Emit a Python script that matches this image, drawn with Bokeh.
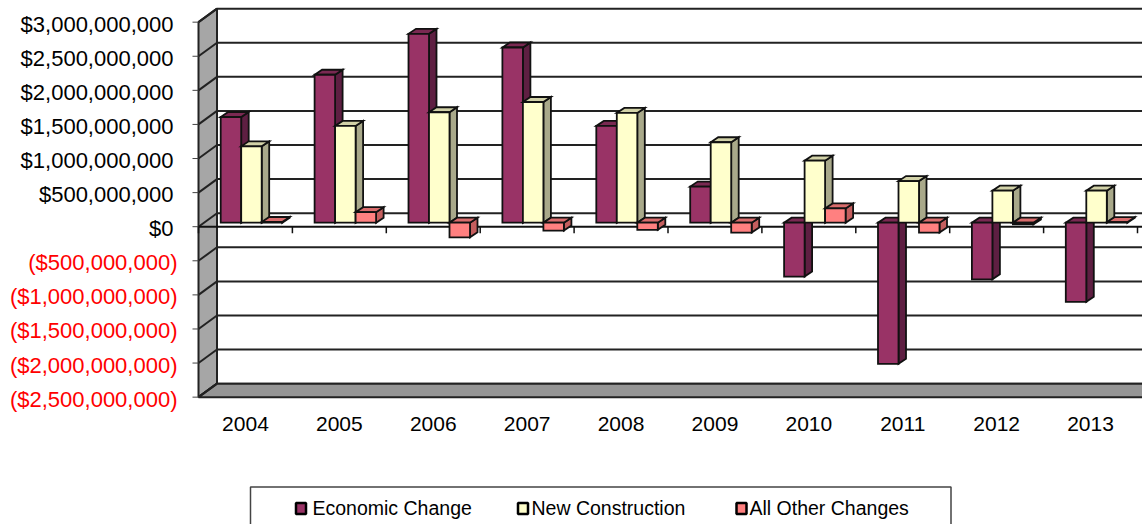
from bokeh.plotting import figure
from bokeh.models import Range1d, ColumnDataSource
from bokeh.core.properties import value
from bokeh.embed import file_html
from bokeh.resources import INLINE

# ---------------- data ----------------
years = ["2004", "2005", "2006", "2007", "2008", "2009", "2010", "2011", "2012", "2013"]
economic_change = [1.55e9, 2.17e9, 2.77e9, 2.57e9, 1.42e9, 0.53e9, -0.79e9, -2.07e9, -0.83e9, -1.16e9]
new_construction = [1.12e9, 1.42e9, 1.62e9, 1.77e9, 1.61e9, 1.18e9, 0.91e9, 0.61e9, 0.47e9, 0.47e9]
all_other_changes = [0.01e9, 0.155e9, -0.215e9, -0.115e9, -0.105e9, -0.145e9, 0.21e9, -0.145e9, -0.025e9, 0.008e9]
series_names = ["Economic Change", "New Construction", "All Other Changes"]
tick_values = [3.0e9, 2.5e9, 2.0e9, 1.5e9, 1.0e9, 0.5e9, 0.0, -0.5e9, -1.0e9, -1.5e9, -2.0e9, -2.5e9]
tick_labels = ["$3,000,000,000", "$2,500,000,000", "$2,000,000,000", "$1,500,000,000",
               "$1,000,000,000", "$500,000,000", "$0", "($500,000,000)", "($1,000,000,000)",
               "($1,500,000,000)", "($2,000,000,000)", "($2,500,000,000)"]

# ---------------- layout (pixel geometry) ----------------
W, H = 1142, 524
ORG = 0         # picture coordinate of the canvas origin
X0 = 198.0      # x of the front plane category origin
CW = 93.9       # px per category
Y0 = 226.2      # y of value 0 on the front plane
PPB = 68.18     # px per 1e9
NCAT = len(years)

def dx(px):
    return (px - X0) / CW

def dy(py):
    return (Y0 - py) / PPB * 1e9

def ox(px):
    return px / CW

def oy(px):
    return px / PPB * 1e9

FONT = value("Liberation Sans")

p = figure(width=W, height=H, x_range=Range1d(dx(ORG), dx(ORG + W)), y_range=Range1d(dy(ORG + H), dy(ORG)),
           output_backend="svg", toolbar_location=None, x_axis_type=None, y_axis_type=None,
           min_border=0)
p.grid.visible = False
p.outline_line_color = None
p.background_fill_color = "white"
p.border_fill_color = "white"

# wall depth offset
OX, OY = ox(18.5), oy(13.5)
ymax, ymin = tick_values[0], tick_values[-1]

# back wall gridlines
p.multi_line(xs=[[OX, dx(ORG + W) + 1] for v in tick_values],
             ys=[[v + OY, v + OY] for v in tick_values], line_color="#222222", line_width=2)

# left wall & floor
p.patch([0, OX, OX, 0], [ymax, ymax + OY, ymin + OY, ymin],
        fill_color="#a6a6a6", line_color="#222222", line_width=2)
p.patch([0, NCAT + 0.2, NCAT + 0.2 + OX, OX], [ymin, ymin, ymin + OY, ymin + OY],
        fill_color="#959595", line_color="#222222", line_width=2)

# diagonal gridlines on the wall + front ticks
p.multi_line(xs=[[0, OX] for v in tick_values], ys=[[v, v + OY] for v in tick_values],
             line_color="#222222", line_width=2)
p.multi_line(xs=[[dx(192), 0] for v in tick_values], ys=[[v, v] for v in tick_values],
             line_color="#444444", line_width=1)

# category axis at zero (front plane)
p.line([0, NCAT + 0.2], [0, 0], line_color="#111111", line_width=2)
p.multi_line(xs=[[k, k] for k in range(NCAT + 1)], ys=[[0, -oy(6.5)] for k in range(NCAT + 1)],
             line_color="#111111", line_width=1.5)

# ---------------- 3D bars ----------------
series = [economic_change, new_construction, all_other_changes]
front_cols = ["#993366", "#ffffcc", "#ff8080"]
side_cols = ["#5e1f42", "#a9a98a", "#c45e5e"]
top_cols = ["#7a2952", "#d2d2a8", "#d96c6c"]
BW = 20.5 / CW
SX, SY = ox(6), oy(4)
BX, BY = ox(7.5), oy(5)

xs, ys, fills = [], [], []
for i in range(NCAT):
    for s, vals in enumerate(series):
        v = vals[i]
        c = i + 0.5 + (s - 1) * BW + SX
        xl, xr = c - BW / 2, c + BW / 2
        lo, hi = min(0, v) + SY, max(0, v) + SY
        xs.append([xr, xr, xr + BX, xr + BX]); ys.append([lo, hi, hi + BY, lo + BY]); fills.append(side_cols[s])
        xs.append([xl, xr, xr + BX, xl + BX]); ys.append([hi, hi, hi + BY, hi + BY]); fills.append(top_cols[s])
        xs.append([xl, xr, xr, xl]); ys.append([lo, lo, hi, hi]); fills.append(front_cols[s])

p.patches(xs="xs", ys="ys", fill_color="fill", line_color="#111111", line_width=1.8,
          line_join="miter", source=ColumnDataSource(dict(xs=xs, ys=ys, fill=fills)))

# ---------------- tick labels ----------------
pos = [(v, t) for v, t in zip(tick_values, tick_labels) if v >= 0]
neg = [(v, t) for v, t in zip(tick_values, tick_labels) if v < 0]
p.text(x=[dx(173)] * len(pos), y=[v for v, _ in pos], text=[t for _, t in pos],
       text_align="right", text_baseline="middle", text_font=FONT, text_font_size="22px",
       text_color="black", y_offset=2)
p.text(x=[dx(177)] * len(neg), y=[v for v, _ in neg], text=[t for _, t in neg],
       text_align="right", text_baseline="middle", text_font=FONT, text_font_size="22px",
       text_color="#ff0000", y_offset=2)
p.text(x=[i + 0.5 for i in range(NCAT)], y=[dy(423)] * NCAT, text=years,
       text_align="center", text_baseline="middle", text_font=FONT, text_font_size="21px",
       text_color="black")

# ---------------- legend ----------------
p.quad(left=[dx(250)], right=[dx(950.5)], top=[dy(486.5)], bottom=[dy(540)],
       fill_color="white", line_color="#444444", line_width=1.5)
p.rect(x=[dx(300.5), dx(522.5), dx(741)], y=[dy(508)] * 3, width=10, height=11,
       width_units="screen", height_units="screen", fill_color=front_cols,
       line_color="black", line_width=2.5)
p.text(x=[dx(312), dx(531), dx(749)], y=[dy(507.5)] * 3, text=series_names,
       text_align="left", text_baseline="middle", text_font=FONT, text_font_size="19.5px",
       text_color="black")

open("out.html", "w").write(file_html(p, INLINE))
